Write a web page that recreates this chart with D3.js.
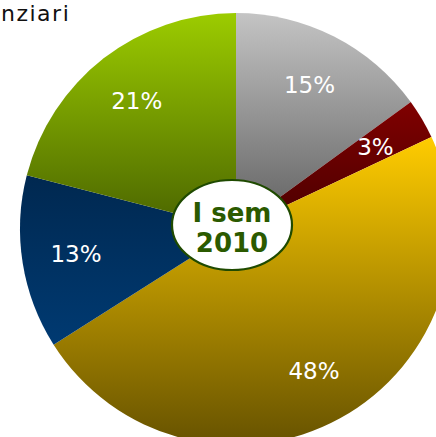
<!DOCTYPE html>
<html>
<head>
<meta charset="utf-8">
<script src="https://cdn.jsdelivr.net/npm/d3@7"></script>
<style>
html,body{margin:0;padding:0;background:#fff;overflow:hidden;}
svg{display:block;}
</style>
</head>
<body>
<svg id="chart" width="436" height="437"></svg>
<script>
const categories = ["Grigio", "Rosso", "Giallo", "Blu", "Verde"];
const values = [15, 3, 48, 13, 21];
const labels = ["15%", "3%", "48%", "13%", "21%"];
const colorsTop = ["#c4c4c4", "#800000", "#ffcc00", "#002850", "#9ccc00"];
const colorsBottom = ["#5e5e5e", "#480000", "#665200", "#003a72", "#4a6400"];
const titleText = "nziari";
const centerLines = ["I sem", "2010"];

const svg = d3.select("#chart");
const cx = 236, cy = 229, R = 216;

const defs = svg.append("defs");
categories.forEach((c, i) => {
  const g = defs.append("linearGradient")
    .attr("id", "grad" + i)
    .attr("x1", 0).attr("y1", 0).attr("x2", 0).attr("y2", 1);
  g.append("stop").attr("offset", "0%").attr("stop-color", colorsTop[i]);
  g.append("stop").attr("offset", "100%").attr("stop-color", colorsBottom[i]);
});

const data = categories.map((c, i) => ({ name: c, value: values[i], label: labels[i], i }));
const pie = d3.pie().sort(null).value(d => d.value).startAngle(0).endAngle(2 * Math.PI);
const arcs = pie(data);
const arc = d3.arc().innerRadius(0).outerRadius(R);
const labelArc = d3.arc().innerRadius(R * 0.75).outerRadius(R * 0.75);

const g = svg.append("g").attr("transform", `translate(${cx},${cy})`);
g.selectAll("path.slice").data(arcs).enter().append("path")
  .attr("class", "slice")
  .attr("d", arc)
  .attr("fill", d => `url(#grad${d.data.i})`);

g.selectAll("text.lbl").data(arcs).enter().append("text")
  .attr("class", "lbl")
  .attr("transform", d => `translate(${labelArc.centroid(d)})`)
  .attr("text-anchor", "middle")
  .attr("dominant-baseline", "central")
  .attr("font-family", "DejaVu Sans, Verdana, sans-serif")
  .attr("font-size", 23)
  .attr("fill", "#ffffff")
  .text(d => d.data.label);

// center ellipse
const cg = g.append("g").attr("transform", "translate(-4,-4)");
cg.append("ellipse")
  .attr("rx", 60).attr("ry", 45)
  .attr("fill", "#ffffff")
  .attr("stroke", "#1f4a00")
  .attr("stroke-width", 2.2);
cg.selectAll("text.ctr").data(centerLines).enter().append("text")
  .attr("class", "ctr")
  .attr("x", 0)
  .attr("y", (d, i) => i === 0 ? -3 : 27)
  .attr("text-anchor", "middle")
  .attr("font-family", "DejaVu Sans, Verdana, sans-serif")
  .attr("font-weight", "bold")
  .attr("font-size", 26)
  .attr("fill", "#2b5a00")
  .text(d => d);

// partial title
svg.append("text")
  .attr("x", 1).attr("y", 21)
  .attr("font-family", "DejaVu Sans, Verdana, sans-serif")
  .attr("font-size", 22)
  .attr("letter-spacing", 1.5)
  .attr("fill", "#111111")
  .text(titleText);
</script>
</body>
</html>
